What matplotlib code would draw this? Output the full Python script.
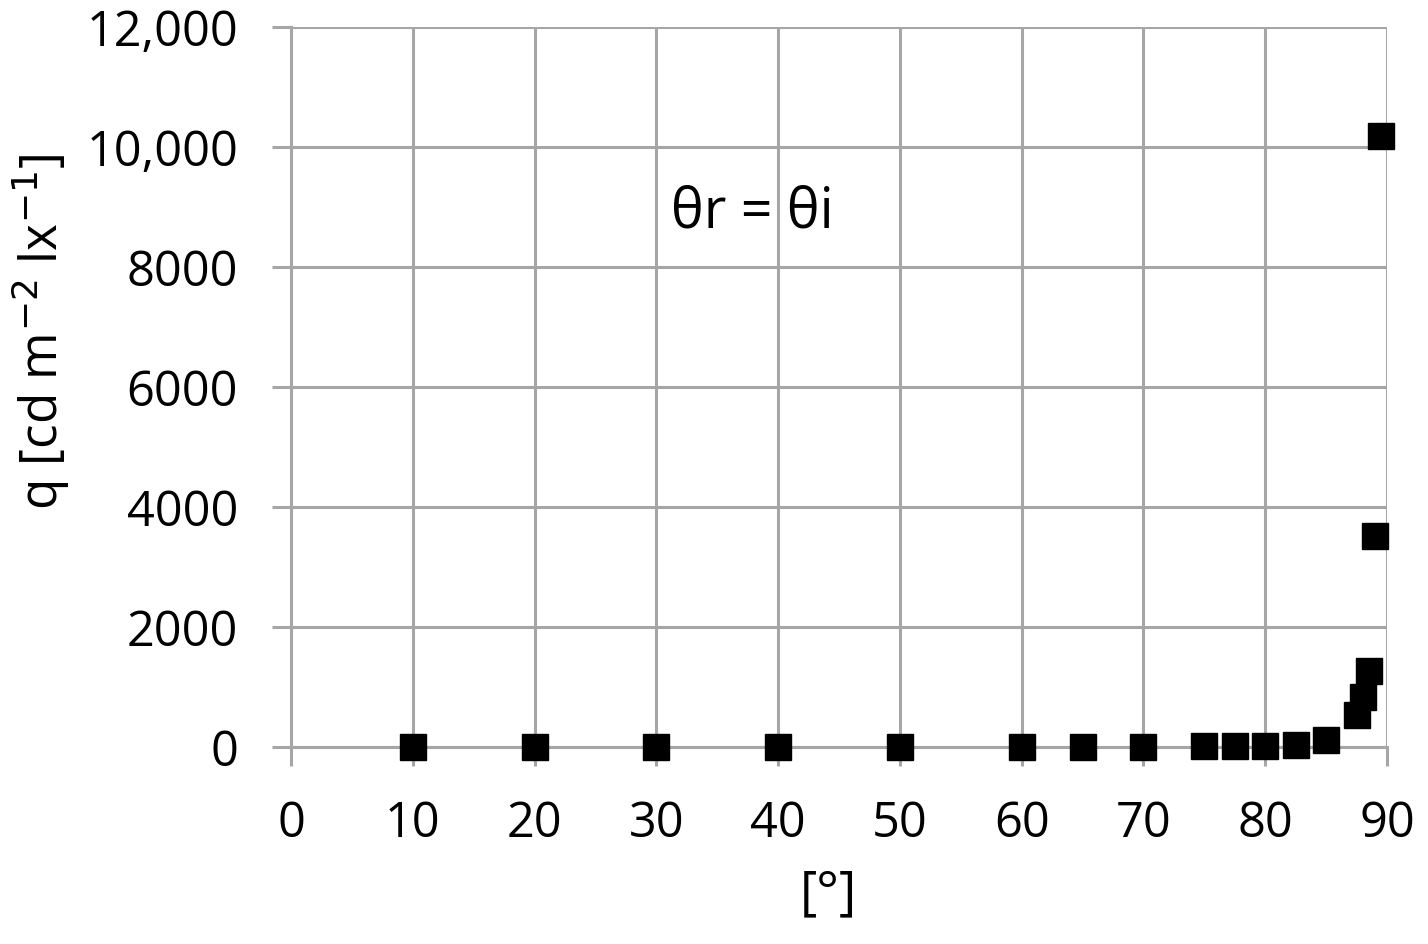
import matplotlib
matplotlib.use("Agg")
import matplotlib.pyplot as plt
from matplotlib.ticker import FuncFormatter

angle = [10, 20, 30, 40, 50, 60, 65, 70, 75, 77.5, 80, 82.5, 85, 87.5, 88, 88.5, 89, 89.5]
q = [5, 5, 5, 5, 5, 6, 7, 8, 10, 12, 15, 30, 120, 530, 830, 1270, 3520, 10180]

xticks = [0, 10, 20, 30, 40, 50, 60, 70, 80, 90]
yticks = [0, 2000, 4000, 6000, 8000, 10000, 12000]

plt.rcParams['font.family'] = ['Open Sans', 'DejaVu Sans']
grey = '#a6a6a6'

fig = plt.figure(figsize=(14.28, 9.44), dpi=100)
ax = fig.add_axes([0.2038, 0.2087, 0.7675, 0.7627])

ax.plot(angle, q, 's', color='black', markersize=19, zorder=3, clip_on=False)

ax.set_xlim(0, 90)
ax.set_ylim(0, 12000)
ax.set_xticks(xticks)
ax.set_yticks(yticks)

def fmt(v, pos):
    v = int(v)
    return f"{v:,}" if v >= 10000 else str(v)

ax.yaxis.set_major_formatter(FuncFormatter(fmt))
ax.grid(True, color=grey, linewidth=2.2)
ax.set_axisbelow(True)
for s in ['top', 'right']:
    ax.spines[s].set_visible(False)
for s in ['left', 'bottom']:
    ax.spines[s].set_color(grey)
    ax.spines[s].set_linewidth(2.2)

ax.tick_params(axis='both', length=14, width=2.2, color=grey, labelsize=35)
ax.tick_params(axis='x', pad=24)
ax.tick_params(axis='y', pad=24)

ax.set_xlabel('[°]', fontsize=38)
ax.xaxis.set_label_coords(0.49, -0.168)
ax.set_ylabel('q [cd m$^{-2}$ lx$^{-1}$]', fontsize=37)
ax.yaxis.set_label_coords(-0.200, 0.576)

ax.text(37.9, 8900, 'θr = θi', fontsize=40, ha='center', va='center')

fig.savefig('out.png', dpi=100)
